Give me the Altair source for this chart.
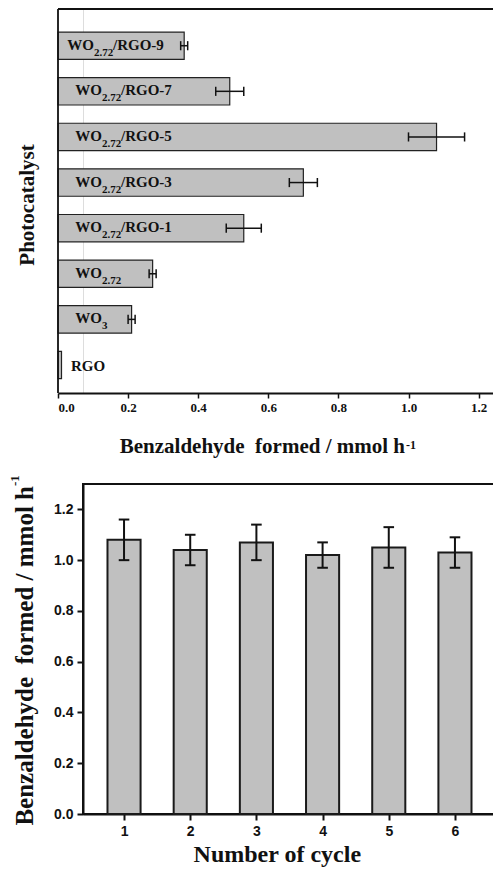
import altair as alt
import pandas as pd

# ---------------- data: top panel ----------------
catalysts = ["RGO", "WO3", "WO2.72", "WO2.72/RGO-1", "WO2.72/RGO-3",
             "WO2.72/RGO-5", "WO2.72/RGO-7", "WO2.72/RGO-9"]
rate = [0.01, 0.21, 0.27, 0.53, 0.70, 1.08, 0.49, 0.36]
rate_lo = [None, 0.20, 0.26, 0.48, 0.66, 1.00, 0.45, 0.35]
rate_hi = [None, 0.22, 0.28, 0.58, 0.74, 1.16, 0.53, 0.37]
label_base = ["RGO", "WO", "WO", "WO", "WO", "WO", "WO", "WO"]
label_sub = ["", "3", "2.72", "2.72", "2.72", "2.72", "2.72", "2.72"]
label_tail = ["", "", "", "/RGO-1", "/RGO-3", "/RGO-5", "/RGO-7", "/RGO-9"]
top_ticks = [0.0, 0.1, 0.2, 0.3, 0.4, 0.5, 0.6, 0.7, 0.8, 0.9, 1.0, 1.1, 1.2]

# ---------------- data: bottom panel ----------------
cycles = [1, 2, 3, 4, 5, 6]
cycle_rate = [1.08, 1.04, 1.07, 1.02, 1.05, 1.03]
cycle_lo = [1.00, 0.98, 1.00, 0.97, 0.97, 0.97]
cycle_hi = [1.16, 1.10, 1.14, 1.07, 1.13, 1.09]
bottom_ticks = [0.0, 0.1, 0.2, 0.3, 0.4, 0.5, 0.6, 0.7, 0.8, 0.9, 1.0, 1.1, 1.2]

SERIF = "Liberation Serif"
SANS = "Liberation Sans"
INK = "#111111"
BAR_FILL = "#c0c0c0"

ZX = -25
W_TOP = 411
H_TOP = 384
PX_PER_UNIT = 350.5
X_MAX = (W_TOP - ZX) / PX_PER_UNIT
SUBW = 19


def junction(name):
    return ZX + (36 if name.endswith("RGO-9") else 44)


df_top = pd.DataFrame({
    "cat": catalysts, "rate": rate, "lo": rate_lo, "hi": rate_hi,
    "base": label_base, "sub": label_sub, "tail": label_tail,
})
df_top["idx"] = range(len(catalysts))
df_top["jx"] = [junction(c) for c in catalysts]
df_top["tx"] = df_top["jx"] + SUBW

xs_top = alt.Scale(domain=[0, X_MAX], range=[ZX, W_TOP], nice=False, zero=False)
ys_top = alt.Scale(domain=[-0.614, 7.805], nice=False, zero=False)

top_axis = alt.Axis(
    values=top_ticks, title=None, grid=False,
    labelExpr="round(datum.value*10) % 2 == 0 ? format(datum.value, '.1f') : ''",
    labelFont=SERIF, labelFontWeight="bold", labelFontSize=13, labelColor=INK,
    labelPadding=3, tickSize=5, tickColor=INK, tickWidth=1.5,
    domainColor=INK, domainWidth=1.8,
)
top_yaxis = alt.Axis(
    title="Photocatalyst", domain=False, ticks=False, labels=False, grid=False,
    titleAngle=270, titleX=-50, titleY=195.5, titleAlign="center",
    titleBaseline="alphabetic", titleFont=SERIF, titleFontSize=21,
    titleFontWeight="bold", titleColor=INK,
)

base_top = alt.Chart(df_top)

bars_top = base_top.transform_calculate(
    zero="0", y0="datum.idx - 0.3", y1="datum.idx + 0.3"
).mark_rect(fill=BAR_FILL, stroke="#222222", strokeWidth=1.2).encode(
    x=alt.X("zero:Q", scale=xs_top, axis=top_axis),
    x2="rate:Q",
    y=alt.Y("y0:Q", scale=ys_top, axis=top_yaxis),
    y2="y1:Q",
)

err_top = base_top.transform_filter("isValid(datum.lo)").mark_rule(
    color=INK, strokeWidth=1.5
).encode(x="lo:Q", x2="hi:Q", y="idx:Q")

caps_top = base_top.transform_filter("isValid(datum.lo)").transform_fold(
    ["lo", "hi"], as_=["end", "v"]
).transform_calculate(c0="datum.idx - 0.1", c1="datum.idx + 0.1").mark_rule(
    color=INK, strokeWidth=1.5
).encode(x="v:Q", y="c0:Q", y2="c1:Q")

wo = base_top.transform_filter("datum.sub != ''")
txt_base = wo.mark_text(align="right", baseline="alphabetic", font=SERIF,
                        fontWeight="bold", fontSize=15, dy=4, color=INK).encode(
    x=alt.X("jx:Q", scale=None), y="idx:Q", text="base:N")
txt_sub = wo.mark_text(align="left", baseline="alphabetic", font=SERIF,
                       fontWeight="bold", fontSize=11, dy=10, color=INK).encode(
    x=alt.X("jx:Q", scale=None), y="idx:Q", text="sub:N")
txt_tail = wo.transform_filter("datum.tail != ''").mark_text(
    align="left", baseline="alphabetic", font=SERIF, fontWeight="bold",
    fontSize=15, dy=4, color=INK).encode(
    x=alt.X("tx:Q", scale=None), y="idx:Q", text="tail:N")
txt_rgo = base_top.transform_filter("datum.sub == ''").mark_text(
    align="left", baseline="alphabetic", font=SERIF, fontWeight="bold",
    fontSize=15, dy=6, color=INK).encode(
    x=alt.value(ZX + 13), y="idx:Q", text="base:N")

one = alt.Chart(pd.DataFrame({"k": [0]}))
frame_top = one.mark_rule(color=INK, strokeWidth=1.8).encode(
    x=alt.value(ZX), x2=alt.value(W_TOP), y=alt.value(0))
left_top = one.mark_rule(color=INK, strokeWidth=1.8).encode(
    x=alt.value(ZX), y=alt.value(0), y2=alt.value(H_TOP))

xtitle_top = one.mark_text(text="Benzaldehyde\u00a0 formed / mmol h", align="right",
                           baseline="alphabetic", font=SERIF, fontWeight="bold",
                           fontSize=21, color=INK).encode(
    x=alt.value(322), y=alt.value(444))
xtitle_top_sup = one.mark_text(text="-1", align="left", baseline="alphabetic",
                               font=SERIF, fontWeight="bold", fontSize=12,
                               dy=-4, color=INK).encode(
    x=alt.value(323), y=alt.value(444))

top = alt.layer(
    bars_top, err_top, caps_top, txt_base, txt_sub, txt_tail, txt_rgo,
    frame_top, left_top, xtitle_top, xtitle_top_sup,
).properties(width=W_TOP, height=H_TOP)

# ---------------- bottom panel ----------------
W_BOT = 411
H_BOT = 330
df_bot = pd.DataFrame({"cycle": cycles, "rate": cycle_rate,
                       "lo": cycle_lo, "hi": cycle_hi})

xs_bot = alt.Scale(domain=[0.38, 6.59], nice=False, zero=False)
ys_bot = alt.Scale(domain=[0, 1.3], nice=False)

x_axis_bot = alt.Axis(values=cycles, format="d", title=None, grid=False,
                      labelFont=SANS, labelFontWeight="bold", labelFontSize=14,
                      labelColor=INK, labelPadding=4, tickSize=6, tickWidth=2,
                      tickColor=INK, domainColor=INK, domainWidth=2)
y_axis_bot = alt.Axis(values=bottom_ticks, title=None, grid=False,
                      labelExpr="round(datum.value*10) % 2 == 0 ? format(datum.value, '.1f') : ''",
                      labelFont=SANS, labelFontWeight="bold", labelFontSize=14,
                      labelColor=INK, labelPadding=4, tickSize=6, tickWidth=2,
                      tickColor=INK, domainColor=INK, domainWidth=2)

base_bot = alt.Chart(df_bot)
bars_bot = base_bot.transform_calculate(
    x0="datum.cycle - 0.25", x1="datum.cycle + 0.25", zero="0"
).mark_rect(fill=BAR_FILL, stroke="#1a1a1a", strokeWidth=2).encode(
    x=alt.X("x0:Q", scale=xs_bot, axis=x_axis_bot),
    x2="x1:Q",
    y=alt.Y("zero:Q", scale=ys_bot, axis=y_axis_bot),
    y2="rate:Q",
)
err_bot = base_bot.mark_rule(color=INK, strokeWidth=2).encode(
    x="cycle:Q", y="lo:Q", y2="hi:Q")
caps_bot = base_bot.transform_fold(["lo", "hi"], as_=["end", "v"]).transform_calculate(
    c0="datum.cycle - 0.08", c1="datum.cycle + 0.08").mark_rule(
    color=INK, strokeWidth=2).encode(x="c0:Q", x2="c1:Q", y="v:Q")

ytitle_bot = one.mark_text(text="Benzaldehyde\u00a0 formed / mmol h", angle=270,
                           align="right", baseline="alphabetic", font=SERIF,
                           fontWeight="bold", fontSize=25, color=INK).encode(
    x=alt.value(-50), y=alt.value(2))
ytitle_bot_sup = one.mark_text(text="-1", angle=270, align="left",
                               baseline="alphabetic", font=SERIF, fontWeight="bold",
                               fontSize=13, dy=-14, color=INK).encode(
    x=alt.value(-50), y=alt.value(2))
xtitle_bot = one.mark_text(text="Number of cycle", align="center",
                           baseline="alphabetic", font=SERIF, fontWeight="bold",
                           fontSize=24, color=INK).encode(
    x=alt.value(194.3), y=alt.value(378))

bottom = alt.layer(
    bars_bot, err_bot, caps_bot, ytitle_bot, ytitle_bot_sup, xtitle_bot,
    view=alt.ViewBackground(stroke=INK, strokeWidth=2),
).properties(width=W_BOT, height=H_BOT)

chart = alt.vconcat(top, bottom, spacing=16).properties(
    padding={"left": 0, "top": -1, "right": -27, "bottom": 6}
).configure_view(stroke="transparent").configure(background="white")

chart.save("out.html", embed_options={"renderer": "svg", "actions": False})
